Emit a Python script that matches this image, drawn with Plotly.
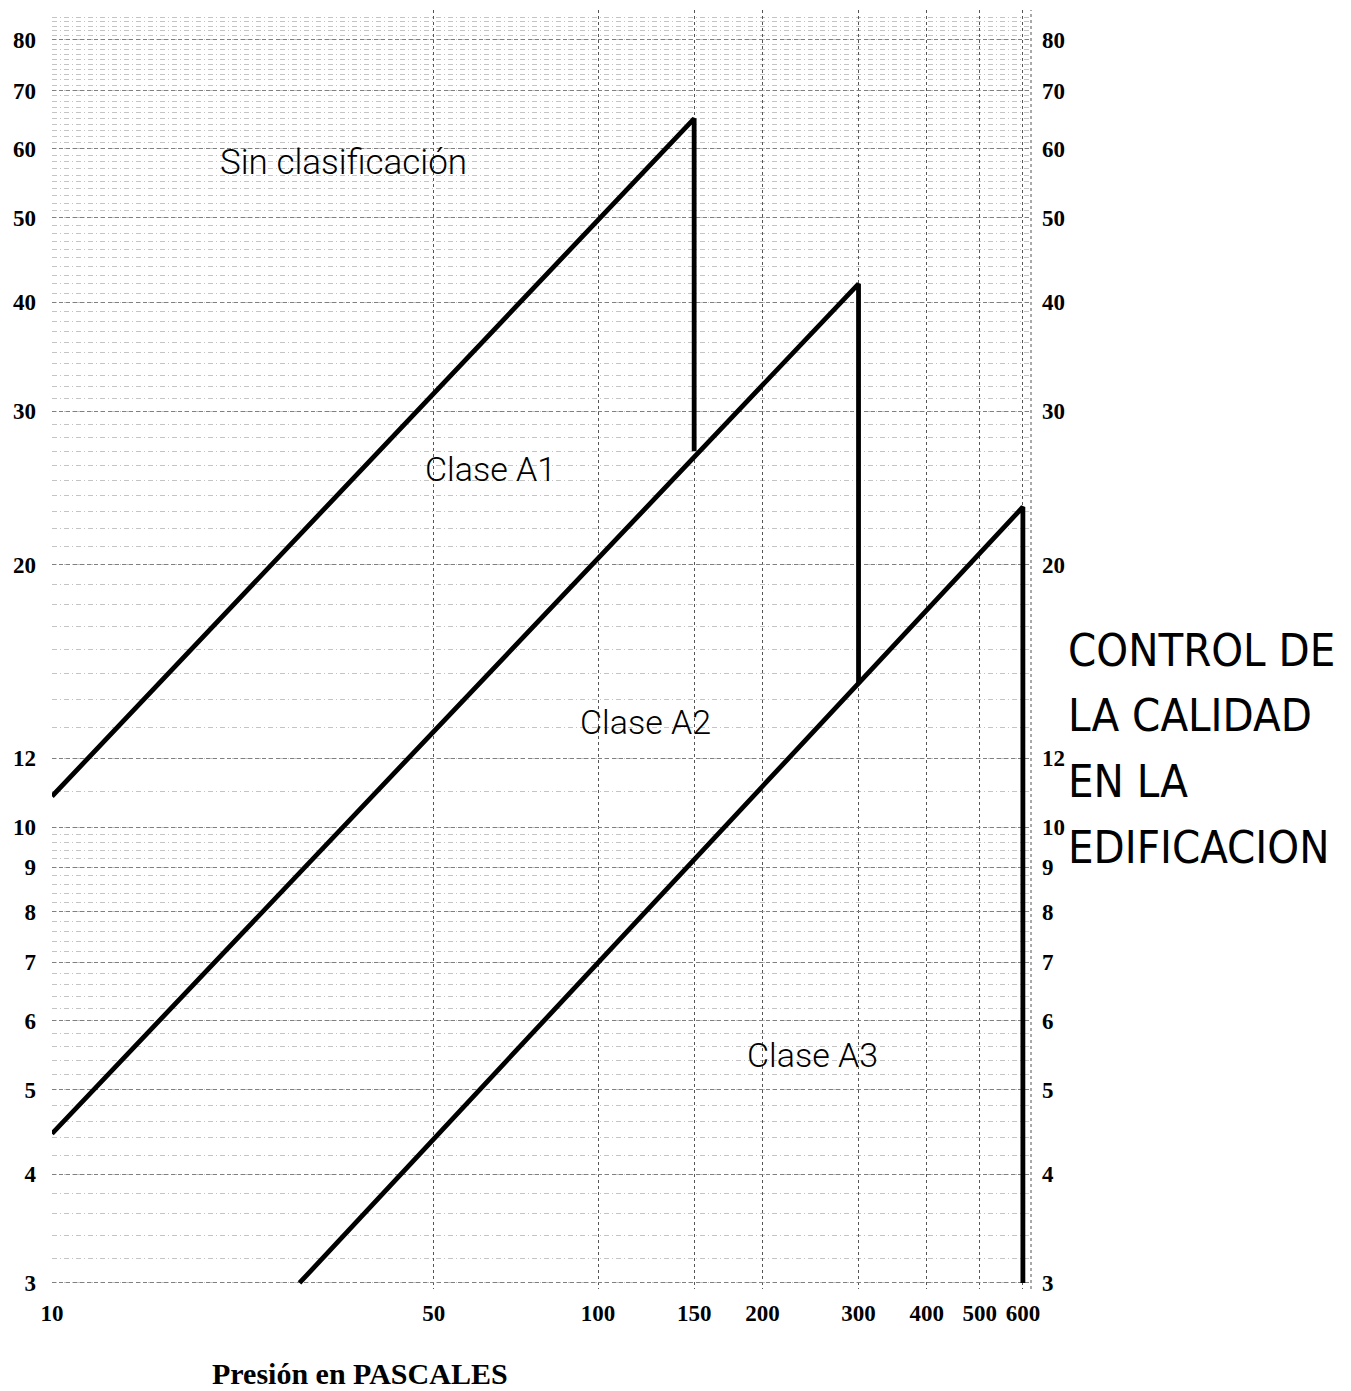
import numpy as np
import plotly.graph_objects as go

# ---- data ----
p_sin = [10, 150, 150]
q_sin = [10.85, 65, 27.0]
p_a1 = [10, 300, 300]
q_a1 = [4.45, 42, 14.6]
p_a2 = [28.4, 600, 600]
q_a2 = [3, 23.3, 3]

x_ticks = [10, 50, 100, 150, 200, 300, 400, 500, 600]
y_ticks = [3, 4, 5, 6, 7, 8, 9, 10, 12, 20, 30, 40, 50, 60, 70, 80]

# background "graph paper" rulings
y_minor = [round(v, 1) for v in np.arange(3, 10, 0.2)] + list(range(10, 86))

# page body has an 8px default margin -> compensate
OFF = 8
W, H = 1351 - OFF, 1391 - OFF
# plot-area edges in reference pixel coordinates
L_ref, R_ref, T_ref, B_ref = 52, 1031, 10, 1289
L, R, T, B = L_ref - OFF, R_ref - OFF, T_ref - OFF, B_ref - OFF


def px(x):
    return (x - L_ref) / (R_ref - L_ref)


def py(y):
    return (B_ref - y) / (B_ref - T_ref)


tick_font = dict(family="Liberation Serif, Times New Roman, serif", size=23,
                 color="black", weight="bold")
line_style = dict(color="black", width=4.8)

fig = go.Figure()
for xs, ys, name in [(p_sin, q_sin, "Sin clasificación"), (p_a1, q_a1, "Clase A1"),
                     (p_a2, q_a2, "Clase A2")]:
    fig.add_trace(go.Scatter(x=xs, y=ys, mode="lines", line=line_style,
                             name=name, showlegend=False, hoverinfo="skip"))
# invisible companion trace so the right-hand axis is drawn
fig.add_trace(go.Scatter(x=p_a2, y=q_a2, yaxis="y2", mode="lines",
                         line=dict(width=0, color="rgba(0,0,0,0)"),
                         showlegend=False, hoverinfo="skip"))

yr = [0.4702, 1.9375]
fig.update_layout(
    width=W, height=H,
    margin=dict(l=L, r=W - R, t=T, b=H - B, autoexpand=False),
    paper_bgcolor="white", plot_bgcolor="white",
    xaxis=dict(type="log", range=[1, 2.793], tickmode="array", tickvals=x_ticks,
               ticktext=[str(v) for v in x_ticks], ticks="", showline=False,
               zeroline=False, tickfont=tick_font, ticklabelstandoff=8,
               automargin=False,
               showgrid=True, gridcolor="#555555", gridwidth=1, griddash="3px,3px"),
    yaxis=dict(type="log", range=yr, tickmode="array", tickvals=y_ticks,
               ticktext=[str(v) for v in y_ticks], ticks="", showline=False,
               zeroline=False, tickfont=tick_font, ticklabelstandoff=15,
               automargin=False,
               showgrid=True, gridcolor="#808080", gridwidth=1, griddash="4px,3px",
               minor=dict(tickmode="array", tickvals=y_minor, showgrid=True,
                          gridcolor="#c4c4c4", gridwidth=1, griddash="5px,3px,1px,3px",
                          ticks="")),
    yaxis2=dict(type="log", range=yr, overlaying="y", side="right",
                tickmode="array", tickvals=y_ticks, ticktext=[str(v) for v in y_ticks],
                ticks="", showline=False, showgrid=False, zeroline=False,
                tickfont=tick_font, ticklabelstandoff=10, automargin=False),
)

# right border ruling
fig.add_shape(type="line", xref="paper", yref="paper", x0=1, x1=1, y0=0, y1=1,
              line=dict(color="#555555", width=1, dash="3px,3px"))

label_font = dict(family="Roboto, Lato, sans-serif", size=34, color="black", weight=300)
labels = [("Sin clasificación", 218, 163, 35), ("Clase A1", 423, 469, 34),
          ("Clase A2", 578, 722, 34), ("Clase A3", 745, 1055, 34)]
for text, lx, ly, fs in labels:
    fig.add_annotation(text=text, xref="paper", yref="paper", x=px(lx), y=py(ly),
                       xanchor="left", yanchor="middle", showarrow=False,
                       font=dict(label_font, size=fs))

side_lines = [("CONTROL DE", 650), ("LA CALIDAD", 715), ("EN LA", 781),
              ("EDIFICACION", 848)]
for text, ly in side_lines:
    fig.add_annotation(text=text, xref="paper", yref="paper", x=px(1066), y=py(ly),
                       xanchor="left", yanchor="middle", align="left", showarrow=False,
                       font=dict(family="DejaVu Sans Condensed, sans-serif",
                                 size=45, color="black"))

fig.add_annotation(text="Presión en PASCALES", xref="paper", yref="paper",
                   x=px(360), y=py(1373), xanchor="center", yanchor="middle",
                   showarrow=False,
                   font=dict(family="Liberation Serif, Times New Roman, serif", size=30,
                             color="black", weight="bold"))

fig.write_html("out.html")
